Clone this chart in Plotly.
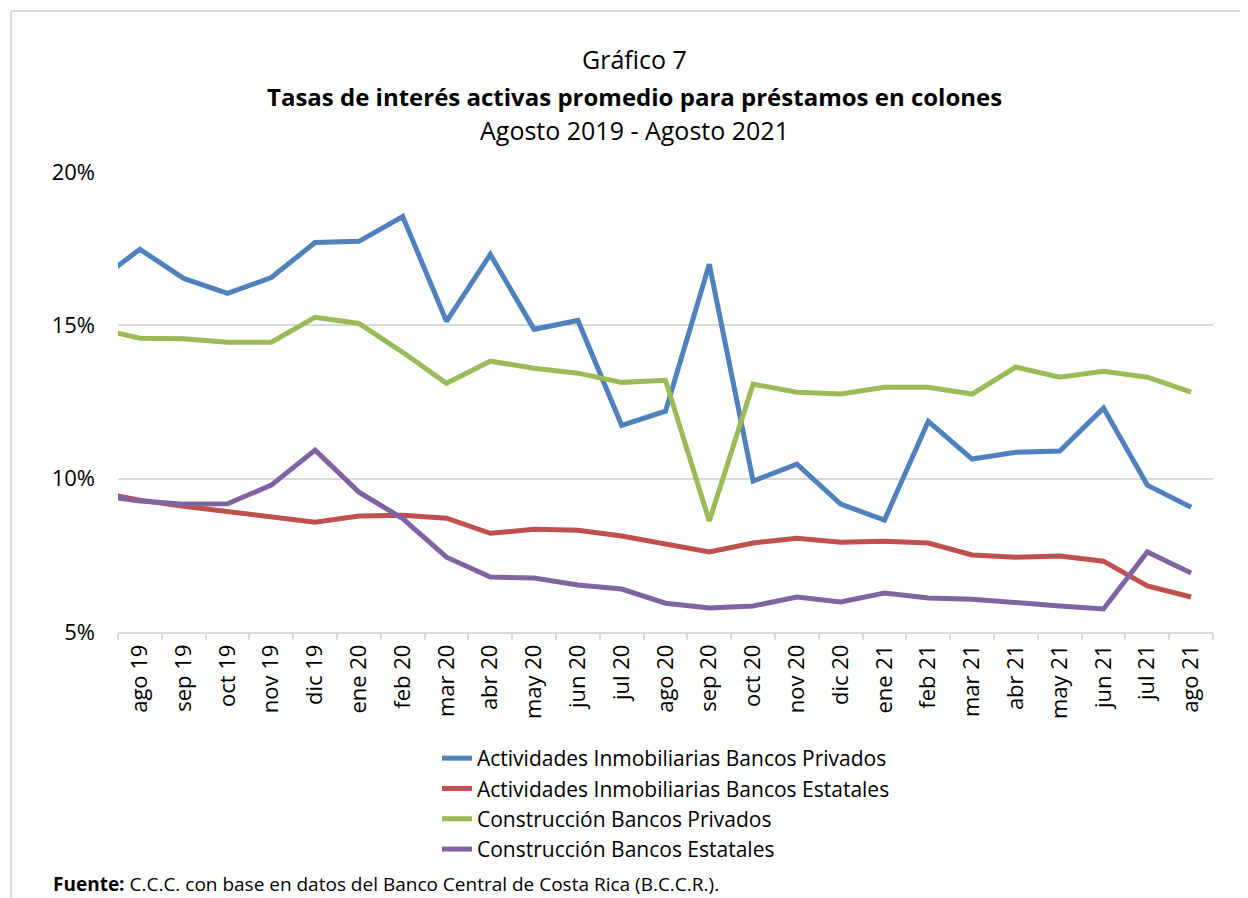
import plotly.graph_objects as go

# Categories (first one is only partially visible at the left edge of the plot)
meses = ["jul 19", "ago 19", "sep 19", "oct 19", "nov 19", "dic 19", "ene 20", "feb 20", "mar 20",
         "abr 20", "may 20", "jun 20", "jul 20", "ago 20", "sep 20", "oct 20", "nov 20",
         "dic 20", "ene 21", "feb 21", "mar 21", "abr 21", "may 21", "jun 21", "jul 21", "ago 21"]

inmob_privados = [16.4, 17.48, 16.53, 16.04, 16.56, 17.70, 17.74, 18.55, 15.13, 17.31, 14.87, 15.16,
                  11.74, 12.20, 16.99, 9.92, 10.47, 9.17, 8.65, 11.87, 10.64, 10.86, 10.90, 12.30,
                  9.79, 9.07]
inmob_estatales = [9.56, 9.30, 9.10, 8.94, 8.75, 8.58, 8.78, 8.81, 8.71, 8.22, 8.35, 8.32,
                   8.13, 7.87, 7.61, 7.90, 8.06, 7.93, 7.96, 7.90, 7.51, 7.44, 7.48, 7.31,
                   6.50, 6.14]
constr_privados = [14.9, 14.58, 14.56, 14.45, 14.45, 15.26, 15.06, 14.12, 13.11, 13.83, 13.60, 13.44,
                   13.14, 13.21, 8.62, 13.08, 12.82, 12.76, 12.98, 12.98, 12.76, 13.64, 13.31, 13.50,
                   13.31, 12.82]
constr_estatales = [9.47, 9.27, 9.17, 9.18, 9.79, 10.93, 9.56, 8.70, 7.44, 6.79, 6.76, 6.53,
                    6.40, 5.94, 5.78, 5.85, 6.14, 5.98, 6.27, 6.11, 6.07, 5.98, 5.85, 5.75,
                    7.61, 6.92]

y_ticks = [5, 10, 15, 20]
y_tick_labels = ["5%", "10%", "15%", "20%"]

series = [
    ("Actividades Inmobiliarias Bancos Privados", inmob_privados, "#4f81bd"),
    ("Actividades Inmobiliarias Bancos Estatales", inmob_estatales, "#c0504d"),
    ("Construcción Bancos Privados", constr_privados, "#9bbb59"),
    ("Construcción Bancos Estatales", constr_estatales, "#8064a2"),
]

FONT = "Open Sans"

fig = go.Figure()
for name, vals, color in series:
    fig.add_trace(go.Scatter(
        x=meses, y=vals, name=name, mode="lines",
        line=dict(color=color, width=5),
    ))

# The page body adds an 8px offset; positions below are given in target-page pixels.
OFF = 8
W, H = 1248 - OFF, 898 - OFF
PL, PR, PT, PB = 118, 1213, 172, 632   # plot area in page pixels
L = PL - OFF
T = PT - OFF
pw, ph = PR - PL, PB - PT
R = W - L - pw
B = H - T - ph
def px(x):
    return (x - PL) / pw
def py(y):
    return (PB - y) / ph

annotations = [
    dict(text="Gráfico 7", x=px(634), y=py(59), font=dict(size=25, color="#000000")),
    dict(text="<b>Tasas de interés activas promedio para préstamos en colones</b>",
         x=px(634), y=py(97), font=dict(size=24, color="#000000")),
    dict(text="Agosto 2019 - Agosto 2021", x=px(634), y=py(130), font=dict(size=25, color="#000000")),
]
for a in annotations:
    a.update(xref="paper", yref="paper", xanchor="center", yanchor="middle", showarrow=False)
annotations.append(dict(
    text="<b>Fuente:</b> C.C.C. con base en datos del Banco Central de Costa Rica (B.C.C.R.).",
    xref="paper", yref="paper", x=px(51), y=py(884), xanchor="left", yanchor="middle",
    showarrow=False, font=dict(size=19, color="#000000")))

fig.update_layout(
    width=W, height=H,
    margin=dict(l=L, r=R, t=T, b=B, autoexpand=False),
    paper_bgcolor="white", plot_bgcolor="white",
    font=dict(family=FONT, color="#000000"),
    showlegend=True,
    legend=dict(x=px(437), y=py(738), xanchor="left", yanchor="top",
                font=dict(size=21, color="#000000"), traceorder="normal",
                bgcolor="rgba(0,0,0,0)"),
    annotations=annotations,
    shapes=[
        dict(type="line", xref="paper", yref="paper", x0=px(11), x1=px(11), y0=py(11), y1=py(910),
             line=dict(color="#d9d9d9", width=2)),
        dict(type="line", xref="paper", yref="paper", x0=px(11), x1=px(1260), y0=py(11), y1=py(11),
             line=dict(color="#d9d9d9", width=2)),
    ],
)

fig.update_xaxes(
    type="category", categoryorder="array", categoryarray=meses,
    range=[0.5, len(meses) - 0.5],
    tickangle=-90, tickson="boundaries", ticks="outside", ticklen=6, tickcolor="#d9d9d9",
    tickwidth=1.5, showline=True, linecolor="#d9d9d9", linewidth=1.5,
    showgrid=False, tickfont=dict(size=22, family=FONT, color="#000000"),
    ticklabelstandoff=2,
)
fig.update_yaxes(
    range=[5, 20], tickmode="array", tickvals=y_ticks, ticktext=y_tick_labels,
    showgrid=True, gridcolor="#d9d9d9", gridwidth=1.5, zeroline=False, showline=False,
    tickfont=dict(size=22, family=FONT, color="#000000"), ticklabelstandoff=22,
)

fig.write_html("out.html")
